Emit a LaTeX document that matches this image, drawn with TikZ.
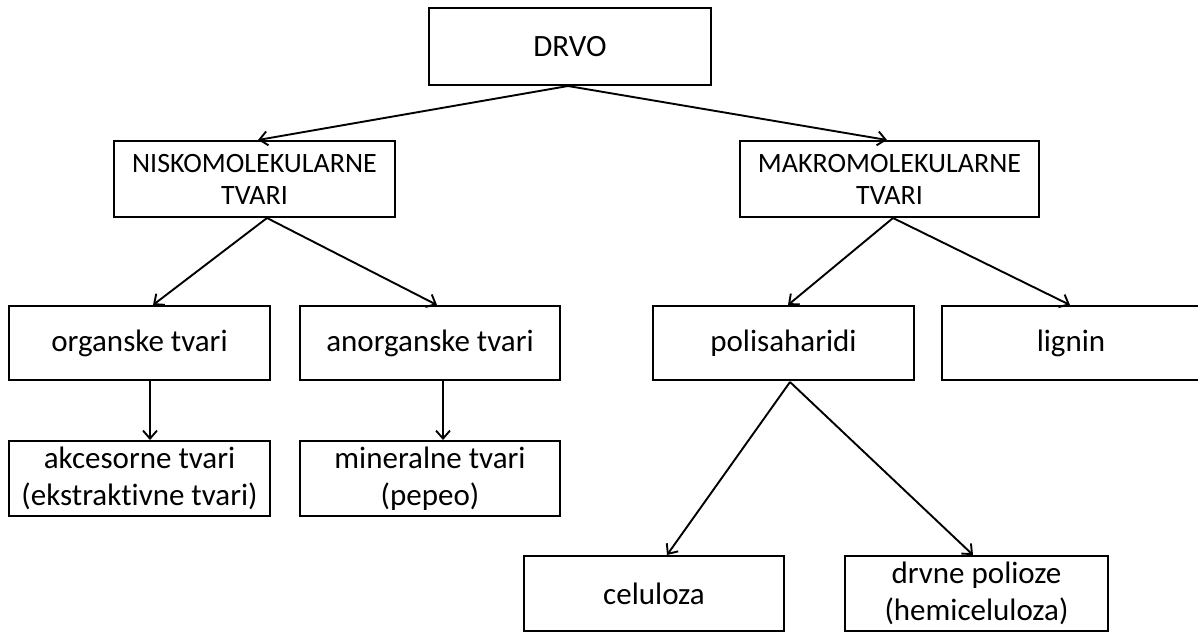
\documentclass[tikz,border=0pt]{standalone}
\usepackage{fontspec}
\setmainfont{Carlito}[Ligatures=NoCommon]
\usetikzlibrary{arrows.meta}
\begin{document}
\begin{tikzpicture}[x=1pt,y=-1pt,
  box/.style={draw, line width=2pt, inner sep=0pt, align=center, font=\fontsize{31}{37}\selectfont},
  capsbox/.style={box, font=\fontsize{28}{32}\selectfont},
  arr/.style={line width=1.9pt, -{Straight Barb[length=8pt,width=14pt,line width=1.9pt]}}]
\useasboundingbox (0,0) rectangle (1198,632);
% nodes
\node[box, minimum width=282pt, minimum height=77pt] (drvo) at (570,46.5) {DRVO};
\node[capsbox, minimum width=281pt, minimum height=76pt] (nisko) at (254.5,179) {NISKOMOLEKULARNE\\TVARI};
\node[capsbox, minimum width=299pt, minimum height=76pt] (makro) at (889.5,179) {MAKROMOLEKULARNE\\TVARI};
\node[box, minimum width=261pt, minimum height=74pt] (org) at (139.5,343) {organske tvari};
\node[box, minimum width=260pt, minimum height=74pt] (anorg) at (430,343) {anorganske tvari};
\node[box, minimum width=261pt, minimum height=74pt] (polis) at (783.5,343) {polisaharidi};
\node[box, minimum width=258pt, minimum height=74pt] (lignin) at (1071,343) {lignin};
\node[box, minimum width=261pt, minimum height=75pt] (akc) at (139.5,478.5) {akcesorne tvari\\(ekstraktivne tvari)};
\node[box, minimum width=260pt, minimum height=75pt] (miner) at (430,478.5) {mineralne tvari\\(pepeo)};
\node[box, minimum width=260pt, minimum height=75pt] (celul) at (654,593.5) {celuloza};
\node[box, minimum width=263pt, minimum height=75pt] (drvne) at (976.5,593.5) {drvne polioze\\(hemiceluloza)};
% connectors
\draw[arr] ([xshift=-2pt]drvo.south) -- ([xshift=3.5pt]nisko.north);
\draw[arr] ([xshift=-2pt]drvo.south) -- ([xshift=-2.5pt]makro.north);
\draw[arr] ([xshift=12.5pt]nisko.south) -- ([xshift=13.5pt]org.north);
\draw[arr] ([xshift=12.5pt]nisko.south) -- ([xshift=7pt]anorg.north);
\draw[arr] ([xshift=3.5pt]makro.south) -- ([xshift=4.5pt]polis.north);
\draw[arr] ([xshift=3.5pt]makro.south) -- ([xshift=-1pt]lignin.north);
\draw[arr] ([xshift=10.5pt]org.south) -- ([xshift=10.5pt]akc.north);
\draw[arr] ([xshift=13pt]anorg.south) -- ([xshift=13pt]miner.north);
\draw[arr] ([xshift=6.5pt,yshift=-1pt]polis.south) -- ([xshift=13pt]celul.north);
\draw[arr] ([xshift=6.5pt,yshift=-1pt]polis.south) -- ([xshift=-3.5pt]drvne.north);
\end{tikzpicture}
\end{document}
